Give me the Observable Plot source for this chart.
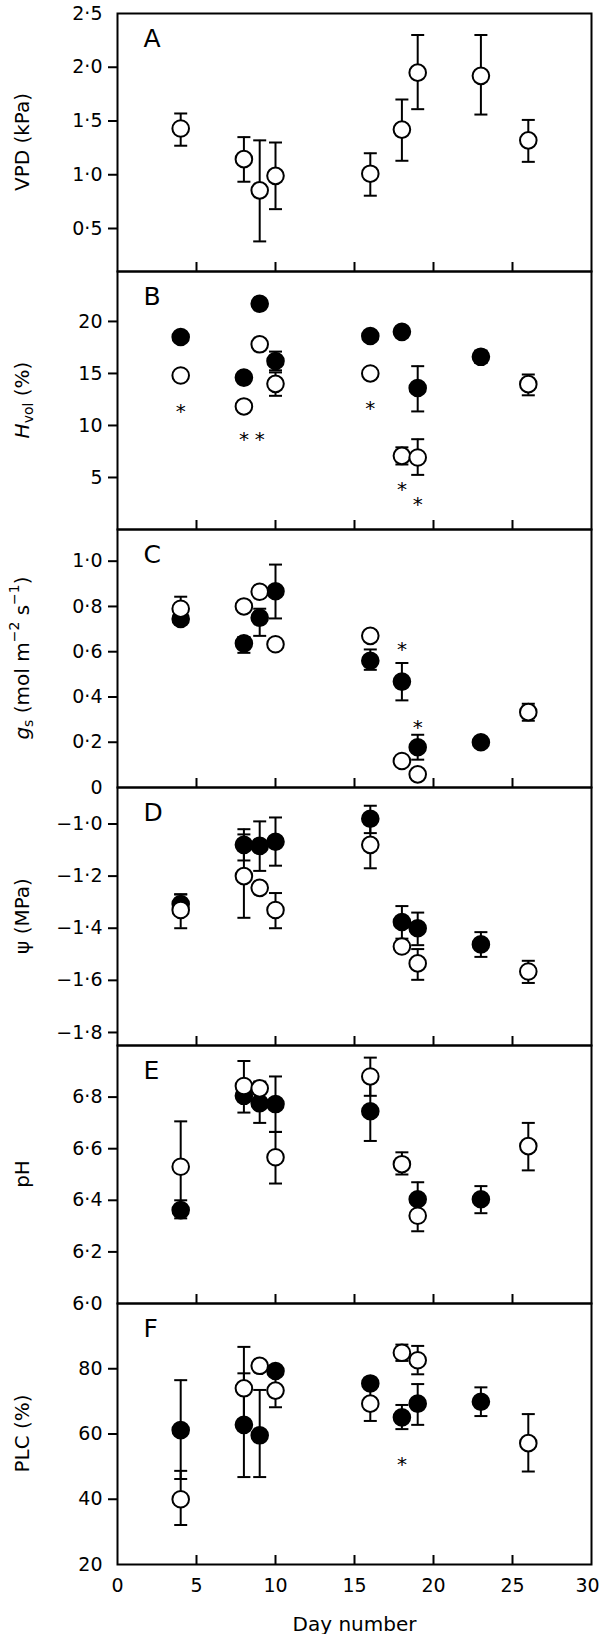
<!DOCTYPE html>
<html><head><meta charset="utf-8">
<script src="https://cdn.jsdelivr.net/npm/d3@7"></script>
<script src="https://cdn.jsdelivr.net/npm/@observablehq/plot@0.6"></script>
<style>
html,body{margin:0;padding:0;background:#fff;overflow:hidden}
#chart svg{display:block;overflow:visible}
</style></head><body><div id="chart"></div>
<script>
// ---------- DATA ----------
const vpdDays = [4, 8, 9, 10, 16, 18, 19, 23, 26];
const closedDays = [4, 8, 9, 10, 16, 18, 19, 23];
const openDays = [4, 8, 9, 10, 16, 18, 19, 26];
const xTickValues = [0, 5, 10, 15, 20, 25, 30];
const xTickLabels = ["0", "5", "10", "15", "20", "25", "30"];

// A: VPD (kPa), open symbols only
const vpdMean = [1.43, 1.145, 0.855, 0.99, 1.01, 1.42, 1.95, 1.92, 1.32];
const vpdHi   = [1.57, 1.35, 1.32, 1.30, 1.20, 1.70, 2.30, 2.30, 1.51];
const vpdLo   = [1.27, 0.935, 0.38, 0.68, 0.805, 1.13, 1.61, 1.56, 1.12];
const vpdTickLabels = ["0·5", "1·0", "1·5", "2·0", "2·5"];

// B: Hvol (%)
const hvolClosed   = [18.5, 14.6, 21.7, 16.2, 18.6, 19.0, 13.6, 16.6];
const hvolClosedHi = [null, null, null, 17.1, null, null, 15.7, 17.2];
const hvolClosedLo = [null, null, null, 15.3, null, null, 11.35, 16.0];
const hvolOpen     = [14.8, 11.83, 17.8, 14.0, 15.0, 7.08, 6.92, 13.97];
const hvolOpenHi   = [null, null, null, 15.1, null, 7.9, 8.68, 14.9];
const hvolOpenLo   = [null, null, null, 12.85, null, 6.25, 5.25, 12.9];
const hvolStarDays = [4, 8, 9, 16, 18, 19];
const hvolStarY    = [11.8, 9.1, 9.1, 12.1, 4.3, 2.9];
const hvolTickLabels = ["5", "10", "15", "20"];

// C: gs (mol m-2 s-1)
const gsClosed   = [0.745, 0.637, 0.75, 0.867, 0.56, 0.468, 0.178, 0.2];
const gsClosedHi = [0.77, 0.665, 0.79, 0.985, 0.61, 0.55, 0.233, null];
const gsClosedLo = [0.72, 0.595, 0.67, 0.747, 0.52, 0.385, 0.123, null];
const gsOpen     = [0.79, 0.80, 0.865, 0.633, 0.67, 0.117, 0.058, 0.333];
const gsOpenHi   = [0.843, null, null, null, null, null, null, 0.37];
const gsOpenLo   = [0.74, null, null, null, null, null, null, 0.295];
const gsStarDays = [18, 19];
const gsStarY    = [0.63, 0.286];
const gsTickLabels = ["0", "0·2", "0·4", "0·6", "0·8", "1·0"];

// D: psi (MPa)
const psiClosed   = [-1.307, -1.08, -1.084, -1.068, -0.98, -1.376, -1.40, -1.462];
const psiClosedHi = [-1.27, -1.02, -0.99, -0.975, -0.93, -1.315, -1.34, -1.415];
const psiClosedLo = [-1.34, -1.14, -1.18, -1.16, -1.035, -1.44, -1.465, -1.51];
const psiOpen     = [-1.33, -1.20, -1.245, -1.33, -1.08, -1.47, -1.535, -1.566];
const psiOpenHi   = [-1.27, -1.04, null, -1.265, -1.0, null, -1.48, -1.525];
const psiOpenLo   = [-1.40, -1.36, null, -1.40, -1.17, null, -1.598, -1.61];
const psiTickLabels = ["−1·8", "−1·6", "−1·4", "−1·2", "−1·0"];

// E: pH
const phClosed   = [6.362, 6.805, 6.776, 6.773, 6.745, null, 6.404, 6.404];
const phClosedHi = [6.40, null, 6.86, 6.88, 6.86, null, 6.47, 6.455];
const phClosedLo = [6.33, null, 6.70, 6.665, 6.63, null, 6.34, 6.35];
const phOpen     = [6.53, 6.843, 6.834, 6.567, 6.88, 6.54, 6.34, 6.61];
const phOpenHi   = [6.706, 6.94, null, 6.665, 6.953, 6.586, 6.40, 6.70];
const phOpenLo   = [6.35, 6.74, null, 6.465, 6.805, 6.50, 6.28, 6.516];
const phTickLabels = ["6·0", "6·2", "6·4", "6·6", "6·8"];

// F: PLC (%)
const plcClosed   = [61.2, 62.8, 59.6, 79.3, 75.5, 65.1, 69.3, 69.9];
const plcClosedHi = [76.5, 78.6, 73.5, null, null, 68.9, 75.3, 74.3];
const plcClosedLo = [46.2, 46.8, 46.8, null, null, 61.5, 62.8, 65.5];
const plcOpen     = [40, 74, 80.9, 73.3, 69.3, 84.9, 82.6, 57.2];
const plcOpenHi   = [48.7, 86.7, null, 78.4, 74.6, 87.4, 87.0, 66.1];
const plcOpenLo   = [32.1, 61.3, null, 68.2, 64.0, 82.4, 78.3, 48.5];
const plcStarDays = [18];
const plcStarY    = [52.1];
const plcTickLabels = ["20", "40", "60", "80"];

// ---------- PANEL CONFIG ----------
const panels = [
  {letter: "A", domain: [0.1, 2.5], labelVals: [0.5, 1, 1.5, 2, 2.5], labels: vpdTickLabels, tickVals: [0.5, 1, 1.5, 2],
   ylabel: [{t: "VPD (kPa)"}],
   open: {days: vpdDays, v: vpdMean, hi: vpdHi, lo: vpdLo}},
  {letter: "B", domain: [0, 24.8], labelVals: [5, 10, 15, 20], labels: hvolTickLabels, tickVals: [5, 10, 15, 20],
   ylabel: [{t: "H", italic: true}, {t: "vol", sub: true}, {t: " (%)"}],
   closed: {days: closedDays, v: hvolClosed, hi: hvolClosedHi, lo: hvolClosedLo},
   open: {days: openDays, v: hvolOpen, hi: hvolOpenHi, lo: hvolOpenLo},
   stars: {days: hvolStarDays, y: hvolStarY}},
  {letter: "C", domain: [0, 1.14], labelVals: [0, 0.2, 0.4, 0.6, 0.8, 1.0], labels: gsTickLabels, tickVals: [0.2, 0.4, 0.6, 0.8, 1.0],
   ylabel: [{t: "g", italic: true}, {t: "s", sub: true}, {t: " (mol m"}, {t: "−2", sup: true}, {t: " s"}, {t: "−1", sup: true}, {t: ")"}],
   closed: {days: closedDays, v: gsClosed, hi: gsClosedHi, lo: gsClosedLo},
   open: {days: openDays, v: gsOpen, hi: gsOpenHi, lo: gsOpenLo},
   stars: {days: gsStarDays, y: gsStarY}},
  {letter: "D", domain: [-1.85, -0.86], labelVals: [-1.8, -1.6, -1.4, -1.2, -1.0], labels: psiTickLabels, tickVals: [-1.8, -1.6, -1.4, -1.2, -1.0],
   ylabel: [{t: "ψ (MPa)"}],
   closed: {days: closedDays, v: psiClosed, hi: psiClosedHi, lo: psiClosedLo},
   open: {days: openDays, v: psiOpen, hi: psiOpenHi, lo: psiOpenLo}},
  {letter: "E", domain: [6.0, 7.0], labelVals: [6.0, 6.2, 6.4, 6.6, 6.8], labels: phTickLabels, tickVals: [6.2, 6.4, 6.6, 6.8],
   ylabel: [{t: "pH"}],
   closed: {days: closedDays, v: phClosed, hi: phClosedHi, lo: phClosedLo},
   open: {days: openDays, v: phOpen, hi: phOpenHi, lo: phOpenLo}},
  {letter: "F", domain: [20, 100], labelVals: [20, 40, 60, 80], labels: plcTickLabels, tickVals: [40, 60, 80],
   ylabel: [{t: "PLC (%)"}],
   closed: {days: closedDays, v: plcClosed, hi: plcClosedHi, lo: plcClosedLo},
   open: {days: openDays, v: plcOpen, hi: plcOpenHi, lo: plcOpenLo},
   stars: {days: plcStarDays, y: plcStarY}}
];

// ---------- DRAW ----------
const FONT = "'DejaVu Sans', Verdana, sans-serif";
const capSymbol = {
  draw(context, size) {
    const hw = Math.sqrt(size / Math.PI);
    context.moveTo(-hw, 0);
    context.lineTo(hw, 0);
  }
};

function rows(series) {
  if (!series) return [];
  return series.days.map((d, j) => ({day: d, v: series.v[j], hi: series.hi ? series.hi[j] : null, lo: series.lo ? series.lo[j] : null}))
    .filter(r => r.v != null);
}

const root = document.getElementById("chart");
panels.forEach((cfg, i) => {
  const isFirst = i === 0, isLast = i === panels.length - 1;
  const mt = isFirst ? 13 : 0;
  const mb = isLast ? 71 : 0;
  const ih = isLast ? 261 : 258;
  const closedRows = rows(cfg.closed);
  const openRows = rows(cfg.open);
  const all = closedRows.concat(openRows);
  const bars = all.filter(r => r.hi != null && r.lo != null);
  const caps = [];
  bars.forEach(r => { caps.push({day: r.day, y: r.hi}); caps.push({day: r.day, y: r.lo}); });
  const stars = cfg.stars ? cfg.stars.days.map((d, j) => ({day: d, y: cfg.stars.y[j]})) : [];
  const labelMap = new Map(cfg.labelVals.map((v, j) => [v, cfg.labels[j]]));
  const xLabelMap = new Map(xTickValues.map((v, j) => [v, xTickLabels[j]]));

  const marks = [
    Plot.axisY({ticks: cfg.labelVals, tickFormat: d => labelMap.get(d), tickSize: 0, tickPadding: 15, fontSize: 19, fill: "black", label: null}),
    Plot.axisY({ticks: cfg.tickVals, tickFormat: () => "", tickSize: 9, strokeWidth: 2, stroke: "black", label: null}),
    Plot.axisX({ticks: [5, 10, 15, 20, 25], tickFormat: () => "", tickSize: 9, dy: -9, strokeWidth: 2, stroke: "black", label: null}),
    Plot.ruleX(bars, {x: "day", y1: "lo", y2: "hi", stroke: "black", strokeWidth: 2}),
    Plot.dot(caps, {x: "day", y: "y", symbol: capSymbol, r: 6.5, stroke: "black", strokeWidth: 2, fill: "none"}),
    Plot.dot(closedRows, {x: "day", y: "v", r: 8.3, fill: "black", stroke: "black", strokeWidth: 2}),
    Plot.dot(openRows, {x: "day", y: "v", r: 8.3, fill: "white", stroke: "black", strokeWidth: 2}),
    Plot.text(stars, {x: "day", y: "y", text: () => "*", fontSize: 20, dy: 5, lineAnchor: "middle", fill: "black"}),
    Plot.text([cfg.letter], {text: d => d, frameAnchor: "top-left", dx: 26, dy: 16, lineAnchor: "top", textAnchor: "start", fontSize: 25, fill: "black"}),
    Plot.frame({stroke: "black", strokeWidth: 2})
  ];
  if (isLast) {
    marks.push(Plot.axisX({ticks: xTickValues.slice(0, -1), tickFormat: d => xLabelMap.get(d), tickSize: 0, tickPadding: 14, fontSize: 19, fill: "black", label: null}));
    marks.push(Plot.axisX({ticks: xTickValues.slice(-1), tickFormat: d => xLabelMap.get(d), tickSize: 0, tickPadding: 14, fontSize: 19, dx: -4, fill: "black", label: null}));
    marks.push(Plot.text(["Day number"], {text: d => d, frameAnchor: "bottom", dy: 60, lineAnchor: "middle", fontSize: 20, fill: "black"}));
  }

  const svg = Plot.plot({
    width: 600,
    height: mt + ih + mb,
    marginLeft: 117, marginRight: 9, marginTop: mt, marginBottom: mb,
    x: {domain: [0, 30]},
    y: {domain: cfg.domain},
    style: {fontFamily: FONT, fontSize: "19px", background: "transparent", overflow: "visible", color: "black"},
    marks
  });

  // rotated y-axis title with sub/superscripts
  const t = d3.select(svg).append("text")
    .attr("transform", `translate(22,${mt + ih / 2}) rotate(-90)`)
    .attr("text-anchor", "middle")
    .attr("dominant-baseline", "central")
    .attr("font-size", 20)
    .attr("font-family", FONT)
    .attr("fill", "black");
  let shift = 0;
  cfg.ylabel.forEach(seg => {
    const ts = t.append("tspan").text(seg.t);
    let target = 0;
    if (seg.sub) target = 6;
    if (seg.sup) target = -8;
    if (target !== shift) { ts.attr("dy", target - shift); shift = target; }
    if (seg.sub || seg.sup) ts.attr("font-size", 14);
    if (seg.italic) ts.attr("font-style", "italic");
  });

  root.appendChild(svg);
});
</script>
</body></html>
